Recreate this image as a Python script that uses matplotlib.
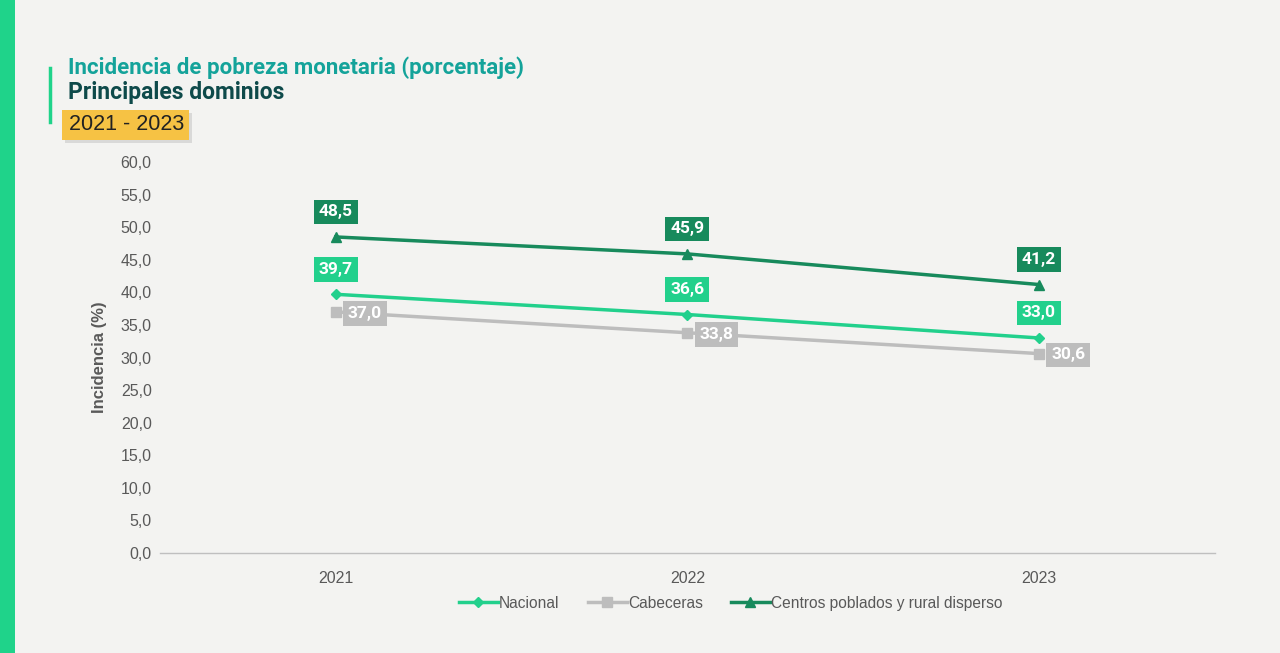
import matplotlib
matplotlib.use("Agg")
import matplotlib.pyplot as plt
from matplotlib.patches import Rectangle
from matplotlib.lines import Line2D

years = ["2021", "2022", "2023"]
nacional = [39.7, 36.6, 33.0]
cabeceras = [37.0, 33.8, 30.6]
centros = [48.5, 45.9, 41.2]
series_names = ["Nacional", "Cabeceras", "Centros poblados y rural disperso"]
yticks = [0, 5, 10, 15, 20, 25, 30, 35, 40, 45, 50, 55, 60]

C_NAC = "#22d08c"
C_CAB = "#bdbdbd"
C_CEN = "#178a5c"
BG = "#f3f3f1"

fig = plt.figure(figsize=(12.8, 6.53), dpi=100, facecolor=BG)
ax = fig.add_axes([0.125, 0.1531, 0.824, 0.5988])
ax.set_facecolor(BG)

x = list(range(len(years)))
ax.plot(x, nacional, color=C_NAC, lw=2.5, marker="D", ms=5, zorder=3)
ax.plot(x, cabeceras, color=C_CAB, lw=2.5, marker="s", ms=7, zorder=3)
ax.plot(x, centros, color=C_CEN, lw=2.5, marker="^", ms=7, zorder=3)

def lab(xi, yi, color, dx=0, dy=0):
    ax.annotate(f"{yi:.1f}".replace(".", ","), (xi, yi), xytext=(dx, dy),
                textcoords="offset points", ha="center", va="center",
                fontsize=12.5, fontweight="bold", color="white", family="Roboto",
                bbox=dict(boxstyle="square,pad=0.28", fc=color, ec="none"), zorder=5)

for i in x:
    lab(i, centros[i], C_CEN, dy=18)
    lab(i, nacional[i], C_NAC, dy=18)
    lab(i, cabeceras[i], C_CAB, dx=21, dy=-1)

ax.set_xlim(-0.5, 2.5)
ax.set_ylim(0, 60)
ax.set_yticks(yticks)
ax.set_yticklabels([f"{v:.1f}".replace(".", ",") for v in yticks],
                   fontsize=11.5, color="#595959", family="Liberation Sans")
ax.set_xticks(x)
ax.set_xticklabels(years, fontsize=11.5, color="#595959", family="Liberation Sans")
ax.tick_params(axis="both", length=0, pad=6)
ax.tick_params(axis="x", pad=13)
for s in ["top", "right", "left"]:
    ax.spines[s].set_visible(False)
ax.spines["bottom"].set_color("#bfbfbf")
ax.spines["bottom"].set_linewidth(1)
ax.set_ylabel("Incidencia (%)", fontsize=12, fontweight="bold", color="#595959",
              family="Liberation Sans", labelpad=10)

handles = [
    Line2D([], [], color=C_NAC, lw=2.5, marker="D", ms=5),
    Line2D([], [], color=C_CAB, lw=2.5, marker="s", ms=7),
    Line2D([], [], color=C_CEN, lw=2.5, marker="^", ms=7),
]
fig.legend(handles, series_names, loc="center", bbox_to_anchor=(0.571, 0.076),
           ncol=3, frameon=False, prop=dict(family="Liberation Sans", size=11.2),
           labelcolor="#595959", handlelength=2.5, handletextpad=0.1, columnspacing=1.8)

# decorations
fig.patches.append(Rectangle((0, 0), 15 / 1280, 1, transform=fig.transFigure,
                             fc="#1fd38a", ec="none"))
fig.add_artist(Line2D([50 / 1280, 50 / 1280], [1 - 68 / 653, 1 - 122 / 653],
                      color="#1fd38a", lw=2.5))
fig.text(68 / 1280, 1 - 68 / 653, "Incidencia de pobreza monetaria (porcentaje)",
         fontsize=16, fontweight="bold", color="#14a39a", family="Roboto",
         va="center", ha="left")
fig.text(68 / 1280, 1 - 93 / 653, "Principales dominios",
         fontsize=16.5, fontweight="bold", color="#0e4a4a", family="Roboto",
         va="center", ha="left")
fig.patches.append(Rectangle((65 / 1280, 1 - 143 / 653), 127 / 1280, 30 / 653,
                             transform=fig.transFigure, fc="#c8c8c8", ec="none", alpha=0.6))
fig.patches.append(Rectangle((62 / 1280, 1 - 140 / 653), 127 / 1280, 30 / 653,
                             transform=fig.transFigure, fc="#f6c244", ec="none"))
fig.text(69 / 1280, 1 - 124 / 653, "2021 - 2023", fontsize=15.5, color="#222222",
         family="Liberation Sans", va="center", ha="left")

fig.savefig("out.png", dpi=100, facecolor=BG)
